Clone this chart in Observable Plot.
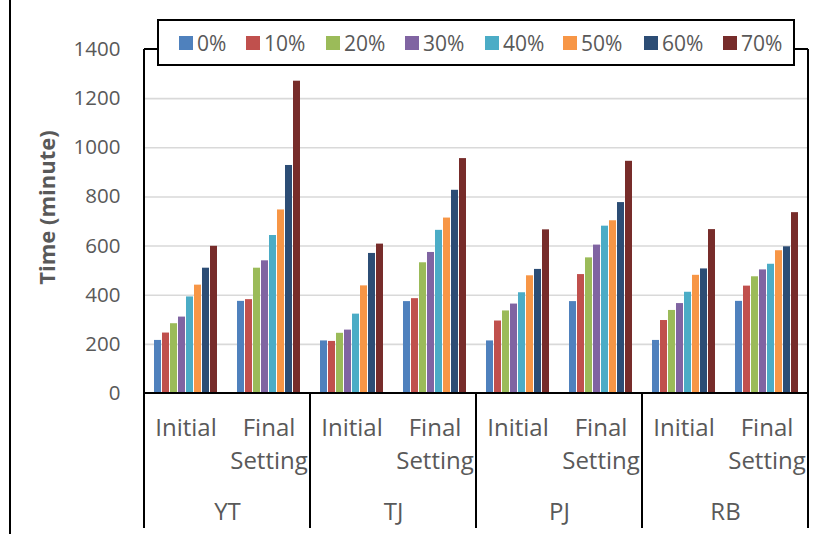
<!DOCTYPE html>
<html><head><meta charset="utf-8">
<script src="https://cdn.jsdelivr.net/npm/d3@7"></script>
<script src="https://cdn.jsdelivr.net/npm/@observablehq/plot@0.6"></script>
<style>body{margin:0;background:#fff} svg{display:block}</style>
</head><body><div id="chart"></div>
<script>
const sites = ["YT", "TJ", "PJ", "RB"];
const phases = ["Initial", "Final Setting"];
const phaseLabels = ["Initial", "Final\nSetting"];
const pcts = ["0%", "10%", "20%", "30%", "40%", "50%", "60%", "70%"];
const colors = ["#4F81BD", "#C0504D", "#9BBB59", "#8064A2", "#4BACC6", "#F79646", "#2C4D75", "#772C2A"];
const yTicks = [0, 200, 400, 600, 800, 1000, 1200, 1400];
const yTitle = "Time (minute)";

const ytInitial = [216, 246, 284, 311, 393, 441, 510, 599];
const ytFinal   = [375, 382, 510, 540, 643, 747, 928, 1271];
const tjInitial = [214, 212, 245, 258, 323, 438, 570, 608];
const tjFinal   = [374, 386, 532, 574, 664, 714, 827, 956];
const pjInitial = [214, 295, 336, 364, 410, 479, 505, 666];
const pjFinal   = [374, 484, 552, 604, 681, 703, 777, 945];
const rbInitial = [216, 297, 338, 366, 412, 481, 507, 667];
const rbFinal   = [375, 437, 475, 503, 526, 581, 597, 736];

const series = {
  YT: [ytInitial, ytFinal],
  TJ: [tjInitial, tjFinal],
  PJ: [pjInitial, pjFinal],
  RB: [rbInitial, rbFinal]
};

const keys = [];
const facetRows = [];
const bars = [];
sites.forEach(site => {
  phases.forEach((phase, pi) => {
    const key = site + "|" + phase;
    keys.push(key);
    facetRows.push({key, site, phase, label: phaseLabels[pi]});
    series[site][pi].forEach((v, i) => bars.push({key, site, phase, pct: pcts[i], value: v}));
  });
});
const siteRows = sites.map(site => ({key: site + "|" + phases[0], site}));

const FONT = "'Open Sans', sans-serif";
const GRAY = "#595959";

const svg = Plot.plot({
  width: 827,
  height: 534,
  marginLeft: 142,
  marginRight: 17,
  marginTop: 49,
  marginBottom: 141,
  style: {fontFamily: FONT, fontSize: "20.5px", color: GRAY, background: "#fff"},
  fx: {domain: keys, padding: 0, axis: null, label: null},
  x: {domain: pcts, paddingInner: 0.18, paddingOuter: 0.86, axis: null, label: null},
  y: {domain: [0, 1400], ticks: yTicks, tickSize: 0, tickPadding: 24, tickFormat: "d", label: null},
  color: {domain: pcts, range: colors},
  marks: [
    Plot.ruleY(yTicks.filter(d => d > 0 && d < 1400), {stroke: "#d9d9d9", strokeWidth: 1.6}),
    Plot.barY(bars, {fx: "key", x: "pct", y: "value", fill: "pct"}),
    Plot.text(facetRows, {fx: "key", text: "label", frameAnchor: "bottom", lineAnchor: "top", dy: 19, fontSize: 24, lineHeight: 1.38, fill: GRAY}),
    Plot.text(siteRows, {fx: "key", text: "site", frameAnchor: "bottom-right", textAnchor: "middle", lineAnchor: "middle", dy: 119, fontSize: 24, fill: GRAY})
  ]
});

document.getElementById("chart").appendChild(svg);

// Frame, dividers, y title and legend, positioned with the plot's own scales
const fx = svg.scale("fx");
const y = svg.scale("y");
const g = d3.select(svg).append("g").attr("stroke", "#000").attr("stroke-width", 2).attr("fill", "none");
const left = fx.apply(keys[0]);
const right = fx.apply(keys[keys.length - 1]) + fx.bandwidth;
const yTop = y.apply(1400), yBase = y.apply(0);
const bottom = 528;
g.append("line").attr("x1", left).attr("x2", right).attr("y1", yTop).attr("y2", yTop);
g.append("line").attr("x1", left).attr("x2", right).attr("y1", yBase).attr("y2", yBase);
sites.forEach(site => {
  const x0 = fx.apply(site + "|" + phases[0]);
  g.append("line").attr("x1", x0).attr("x2", x0).attr("y1", site === sites[0] ? yTop : yBase).attr("y2", bottom);
});
g.append("line").attr("x1", right).attr("x2", right).attr("y1", yTop).attr("y2", bottom);
g.append("line").attr("x1", 10).attr("x2", 10).attr("y1", 0).attr("y2", 534);

d3.select(svg).append("text")
  .attr("transform", `translate(55,${y.apply(755)}) rotate(-90)`)
  .attr("text-anchor", "middle")
  .attr("font-family", FONT).attr("font-weight", "bold").attr("font-size", 22)
  .attr("fill", GRAY).text(yTitle);

// Legend
const lg = d3.select(svg).append("g").attr("text-anchor", "start");
lg.append("rect").attr("x", 158).attr("y", 20).attr("width", 636).attr("height", 45)
  .attr("fill", "#fff").attr("stroke", "#000").attr("stroke-width", 2);
const legendX = [179, 246, 326, 405, 485, 563, 644, 723];
pcts.forEach((p, i) => {
  lg.append("rect").attr("x", legendX[i]).attr("y", 36).attr("width", 14).attr("height", 14).attr("fill", colors[i]);
  lg.append("text").attr("x", legendX[i] + 18).attr("y", 43).attr("dy", "0.36em")
    .attr("text-anchor", "start")
    .attr("font-family", FONT).attr("font-size", 21).attr("fill", GRAY).text(p);
});
</script>
</body></html>
